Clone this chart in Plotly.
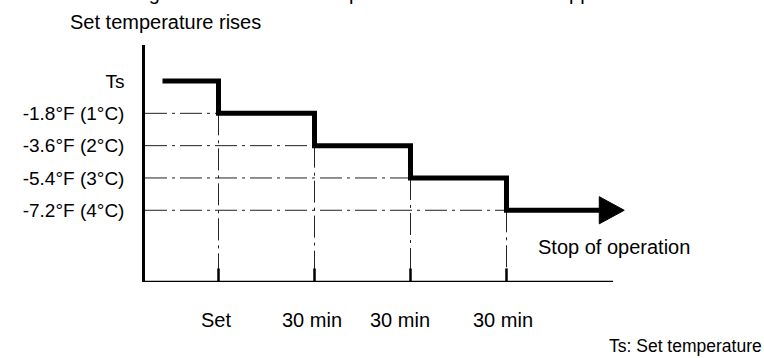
import plotly.graph_objects as go

# steps of the set temperature (°C below Ts) and when they happen (min after "Set")
step_times = [0, 30, 60, 90]
step_levels = [-1, -2, -3, -4]
start_time = -17.5
end_time = 119
level_labels = ["Ts", "-1.8°F (1°C)", "-3.6°F (2°C)", "-5.4°F (3°C)", "-7.2°F (4°C)"]
level_vals = [0, -1, -2, -3, -4]
time_labels = ["Set", "30 min", "30 min", "30 min"]
label_shift = [-3, -3, -10, -3]

AXIS_END = 123.3
X_RANGE = [-22.97, 136.1]
Y_RANGE = [-6.22, 1.115]
FONT = "Liberation Sans, Arial, sans-serif"
FS = 20

fig = go.Figure()

# dash-dot guide lines
gx, gy = [], []
for t, lv in zip(step_times, step_levels):
    gx += [X_RANGE[0], t, None, t, t, None]
    gy += [lv, lv, None, lv, Y_RANGE[0], None]
fig.add_trace(go.Scatter(x=gx, y=gy, mode="lines", hoverinfo="skip",
                         line=dict(color="#222", width=1, dash="22px,5px,3px,5px")))

# time axis line (ends before the arrow tip)
fig.add_trace(go.Scatter(x=[X_RANGE[0], AXIS_END], y=[Y_RANGE[0], Y_RANGE[0]], mode="lines",
                         cliponaxis=False, hoverinfo="skip", line=dict(color="black", width=2.5)))

# step line
sx = [start_time] + step_times + [end_time]
sy = [level_vals[0]] + step_levels + [step_levels[-1]]
fig.add_trace(go.Scatter(x=sx, y=sy, mode="lines", line_shape="hv",
                         line=dict(color="black", width=5), hoverinfo="skip"))

# arrow head
hl, hh = 7.8, 0.42
fig.add_trace(go.Scatter(x=[end_time, end_time + hl, end_time, end_time],
                         y=[step_levels[-1] + hh, step_levels[-1], step_levels[-1] - hh, step_levels[-1] + hh],
                         mode="lines", fill="toself", fillcolor="black",
                         line=dict(color="black", width=1), hoverinfo="skip"))

# tick marks crossing the time axis
tx, ty = [], []
for t in step_times:
    tx += [t, t, None]
    ty += [-5.8, -6.7, None]
fig.add_trace(go.Scatter(x=tx, y=ty, mode="lines", cliponaxis=False, hoverinfo="skip",
                         line=dict(color="black", width=2.5)))

ann = []
for t, lab, sh in zip(step_times, time_labels, label_shift):
    ann.append(dict(x=t, y=-0.16, xref="x", yref="paper", text=lab, showarrow=False,
                    xshift=sh, yanchor="middle"))
ann += [
    dict(x=X_RANGE[0], y=1.097, xref="x", yref="paper", text="Set temperature rises",
         showarrow=False, xanchor="left", yanchor="middle", xshift=-77),
    dict(x=AXIS_END, y=0.1477, xref="x", yref="paper", text="Stop of operation",
         showarrow=False, xanchor="left", yanchor="middle", xshift=-77),
    dict(x=AXIS_END, y=-0.27, xref="x", yref="paper", text="Ts: Set temperature",
         showarrow=False, xanchor="right", yanchor="middle", xshift=151, font=dict(size=17.5)),
    dict(x=43.5, y=1.22, xref="x", yref="paper",
         text="Change of the room set temperature until the unit stopped",
         showarrow=False, xanchor="center", yanchor="middle"),
]

fig.update_layout(
    width=764, height=358,
    margin=dict(l=145, r=110, t=45, b=76),
    paper_bgcolor="white", plot_bgcolor="white",
    showlegend=False,
    font=dict(family=FONT, size=FS, color="black"),
    annotations=ann,
)
fig.update_xaxes(range=X_RANGE, showline=False, showgrid=False, zeroline=False,
                 showticklabels=False, ticks="")
fig.update_yaxes(range=Y_RANGE, showline=True, linecolor="black", linewidth=2.5,
                 showgrid=False, zeroline=False, tickvals=level_vals, ticktext=level_labels,
                 ticks="", ticklabelstandoff=14, tickfont=dict(size=19))

fig.write_html("out.html", config={"displayModeBar": False},
               post_script="document.body.style.margin='0';")
